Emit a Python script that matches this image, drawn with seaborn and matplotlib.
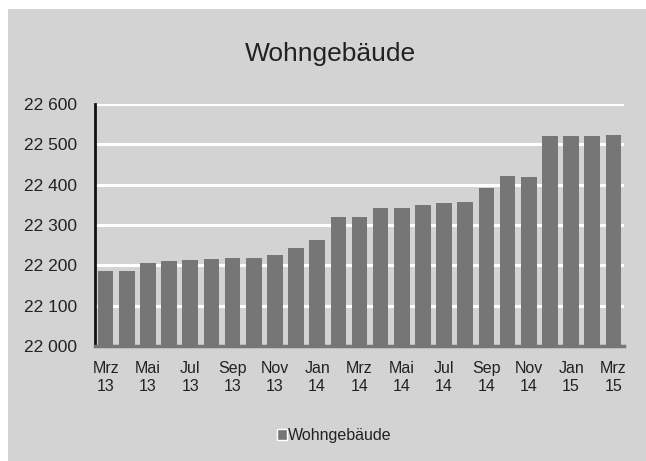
import matplotlib
matplotlib.use("Agg")
import matplotlib.pyplot as plt
from matplotlib.patches import Patch, Rectangle
from matplotlib.ticker import FuncFormatter
import seaborn as sns
import pandas as pd

months = ["Mrz", "Apr", "Mai", "Jun", "Jul", "Aug", "Sep", "Okt", "Nov", "Dez",
          "Jan", "Feb", "Mrz", "Apr", "Mai", "Jun", "Jul", "Aug", "Sep", "Okt",
          "Nov", "Dez", "Jan", "Feb", "Mrz"]
years = [13] * 10 + [14] * 12 + [15] * 3
values = [22187, 22187, 22206, 22210, 22213, 22216, 22217, 22219, 22226, 22243,
          22264, 22320, 22319, 22343, 22342, 22349, 22355, 22358, 22391, 22421,
          22419, 22521, 22521, 22521, 22523]
series_name = "Wohngebäude"

bg = "#d3d3d3"
bar_color = "#767676"

df = pd.DataFrame({"monat": [f"{m}\n{y}" for m, y in zip(months, years)],
                   "wert": values})

sns.set_style("white")
plt.rcParams["font.family"] = ["Liberation Sans", "DejaVu Sans"]

fig = plt.figure(figsize=(6.46, 4.61), dpi=100, facecolor="white")
# grauer Diagrammbereich mit schmalem weissen Rand oben/links
fig.patches.append(Rectangle((8 / 646, 0), 1, (461 - 9) / 461, transform=fig.transFigure,
                             facecolor=bg, edgecolor="none", zorder=-10))
ax = fig.add_axes([95 / 646, 115 / 461, 529 / 646, 242 / 461])
ax.set_facecolor(bg)

sns.barplot(data=df, x="monat", y="wert", color=bar_color, saturation=1,
            width=0.74, linewidth=0, ax=ax)

ax.set_ylim(22000, 22600)
ax.set_xlim(-0.5, len(values) - 0.5)
ax.set_yticks(range(22000, 22601, 100))
ax.yaxis.set_major_formatter(FuncFormatter(lambda v, p: f"{int(v):,}".replace(",", " ")))
ax.grid(axis="y", color="white", linewidth=2.2)
ax.set_axisbelow(True)

ticks = list(range(0, len(values), 2))
ax.set_xticks(ticks)
ax.set_xticklabels([df["monat"][i] for i in ticks], linespacing=1.25)
ax.tick_params(axis="both", length=0, colors="#222222")
ax.tick_params(axis="x", pad=11, labelsize=11.5)
ax.tick_params(axis="y", pad=13, labelsize=12.5)
ax.set_xlabel("")
ax.set_ylabel("")

for s in ["top", "right"]:
    ax.spines[s].set_visible(False)
ax.spines["left"].set_color("#111111")
ax.spines["left"].set_linewidth(2)
ax.spines["bottom"].set_color(bar_color)
ax.spines["bottom"].set_linewidth(2.5)

fig.text(0.511, 0.882, series_name, ha="center", va="center", fontsize=19, color="#222222")

fig.legend(handles=[Patch(facecolor=bar_color, label=series_name)],
           loc="center", bbox_to_anchor=(0.518, 0.055), frameon=False,
           fontsize=11.5, handlelength=0.6, handleheight=0.6, handletextpad=0.1,
           labelcolor="#222222")

fig.savefig("out.png", dpi=100, facecolor="white")
